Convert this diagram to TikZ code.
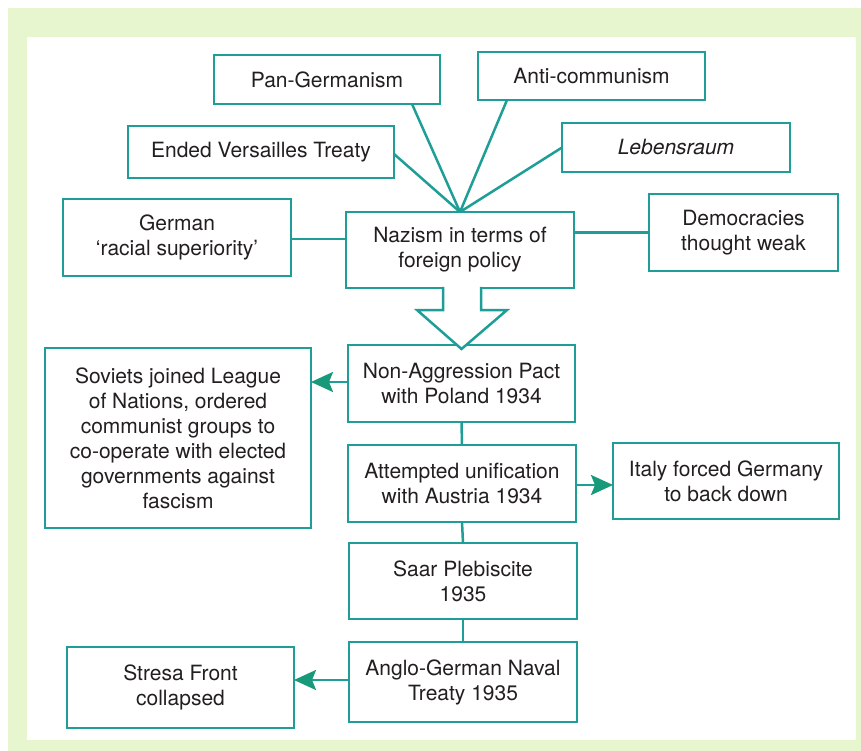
\documentclass[tikz,border=0pt]{standalone}
\usepackage{fontspec}
\setmainfont{TeX Gyre Heros}
\usetikzlibrary{arrows.meta,calc}
\definecolor{framegreen}{HTML}{E8F6CF}
\definecolor{tealline}{HTML}{1E9E96}
\definecolor{tipgreen}{HTML}{17997A}
\definecolor{ink}{HTML}{231F20}
\begin{document}
\begin{tikzpicture}[x=1pt,y=-1pt,
  box/.style 2 args={draw=tealline,line width=2.5pt,fill=white,inner sep=0pt,outer sep=0pt,
    minimum width=#1pt,minimum height=#2pt,align=center,text=ink,
    font=\fontsize{21}{25}\selectfont},
  conn/.style={draw=tealline,line width=2.5pt},
  arr/.style={conn,-{Stealth[length=22pt,width=20pt,inset=4pt,color=tipgreen,fill=tipgreen]}}]
\useasboundingbox (0,0) rectangle (861,751);
\fill[white] (0,0) rectangle (861,751);
\fill[framegreen] (8,8) rectangle (861,751);
\fill[white] (27,37) rectangle (856,740);

% nodes
\node[box={226}{49}] (pan) at (327,79.5) {Pan-Germanism};
\node[box={227}{48}] (anti) at (591.5,76) {Anti-communism};
\node[box={266}{52}] (vers) at (261,152) {Ended Versailles Treaty};
\node[box={228}{49}] (leben) at (676,147.5) {\itshape Lebensraum};
\node[box={228}{77}] (german) at (177,237.5) {German\\‘racial superiority’};
\node[box={228}{76}] (nazism) at (460,250) {Nazism in terms of\\foreign policy};
\node[box={189}{77}] (democ) at (743.5,232.5) {Democracies\\thought weak};
\node[box={227}{77}] (nonagg) at (461.5,383.5) {Non-Aggression Pact\\with Poland 1934};
\node[box={228}{77}] (attempt) at (462,483.5) {Attempted unification\\with Austria 1934};
\node[box={266}{180}] (soviets) at (178,438) {Soviets joined League\\of Nations, ordered\\communist groups to\\co-operate with elected\\governments against\\fascism};
\node[box={226}{76}] (italy) at (726,481) {Italy forced Germany\\to back down};
\node[box={228}{76}] (saar) at (463,581) {Saar Plebiscite\\1935};
\node[box={228}{80}] (anglo) at (463,682) {Anglo-German Naval\\Treaty 1935};
\node[box={227}{81}] (stresa) at (180.5,687.5) {Stresa Front\\collapsed};

% hub lines
\coordinate (hub) at (nazism.north);
\draw[conn] ([xshift=85pt]pan.south) -- (hub);
\draw[conn] ([xshift=-84.5pt]anti.south) -- (hub);
\draw[conn] ([yshift=-2pt]vers.east) -- (hub);
\draw[conn] (leben.west) -- (hub);
\draw[conn] ([yshift=-1.5pt]german.east) -- ([yshift=-1.5pt]german.east -| nazism.west);
\draw[conn] (democ.west) -- (democ.west -| nazism.east);

% big hollow arrow
\coordinate (s) at ([xshift=2pt]nazism.south);
\coordinate (t) at ([yshift=-4pt]nonagg.north);
\fill[white] ($(s)+(-19,-2)$) -- ($(s)+(-19,22)$) -- ($(s)+(-45,22)$) -- (t)
  -- ($(s)+(45,22)$) -- ($(s)+(19,22)$) -- ($(s)+(19,-2)$) -- cycle;
\draw[conn,line join=miter] ($(s)+(-19,-1.25)$) -- ($(s)+(-19,22)$) -- ($(s)+(-45,22)$) -- (t)
  -- ($(s)+(45,22)$) -- ($(s)+(19,22)$) -- ($(s)+(19,-1.25)$);

% chain
\draw[conn] (nonagg.south) -- (attempt.north);
\draw[conn] (attempt.south) -- (saar.north);
\draw[conn] (saar.south) -- (anglo.north);

% side arrows
\draw[arr] ([yshift=1.5pt]nonagg.west) -- ([yshift=1.5pt]nonagg.west -| soviets.east);
\draw[arr] ([yshift=-1.5pt]attempt.east) -- ([yshift=-1.5pt]attempt.east -| italy.west);
\draw[arr] ([yshift=2pt]anglo.west) -- ([yshift=2pt]anglo.west -| stresa.east);
\end{tikzpicture}
\end{document}
